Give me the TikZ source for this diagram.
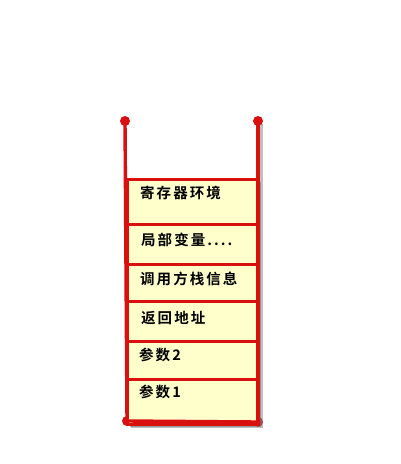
\documentclass[tikz,border=0pt]{standalone}
\usepackage{fontspec}
\newfontfamily\cjk{Noto Sans CJK SC}[BoldFont={Noto Sans CJK SC Bold}, LetterSpace=14]
\usetikzlibrary{shadows}
\definecolor{rail}{HTML}{D81010}
\definecolor{boxfill}{HTML}{FFFFCC}
\tikzset{
  slot/.style={draw=rail, line width=3.2pt, fill=boxfill, minimum width=131pt,
    anchor=north west, inner sep=0pt, text width=131pt,
    drop shadow={shadow xshift=2pt, shadow yshift=-2pt, opacity=0.45, fill=black!60}},
  lbl/.style={anchor=west, font=\cjk\bfseries\fontsize{14.5pt}{17pt}\selectfont, inner sep=0pt},
  dot/.style={circle, fill=rail, minimum size=10pt, inner sep=0pt},
  railline/.style={draw=rail, line width=3.4pt}
}
\begin{document}
\begin{tikzpicture}[x=1pt,y=-1pt]
\useasboundingbox (0,0) rectangle (400,464);
% dots
\node[dot] (tl) at (125,121) {};
\node[dot] (tr) at (258,121) {};
\node[dot] (bl) at (127,421) {};
\node[dot] (br) at (258,422) {};
% shadows of rails
\draw[line width=3pt, black!50, opacity=0.5] (tr.center) ++(3,3) -- ++(0,302) -- ++(-130,0);
% boxes
\node[slot, minimum height=45pt] (b1) at (126,178) {};
\node[slot, minimum height=40pt] (b2) at (126,223) {};
\node[slot, minimum height=37pt] (b3) at (126,263) {};
\node[slot, minimum height=40pt] (b4) at (126,300) {};
\node[slot, minimum height=38pt] (b5) at (126,340) {};
\node[slot, minimum height=45pt] (b6) at (126,378) {};
\node[lbl] at (140,193) {寄存器环境};
\node[lbl] at (141,240) {局部变量....};
\node[lbl] at (140,279) {调用方栈信息};
\node[lbl] at (141,318) {返回地址};
\node[lbl] at (139,355) {参数2};
\node[lbl] at (139,392) {参数1};
% rails
\draw[railline] (tl.center) -- (bl.center);
\draw[railline] (tr.center) -- (br.center);
\draw[railline] (bl.center) -- (br.center);
\end{tikzpicture}
\end{document}
